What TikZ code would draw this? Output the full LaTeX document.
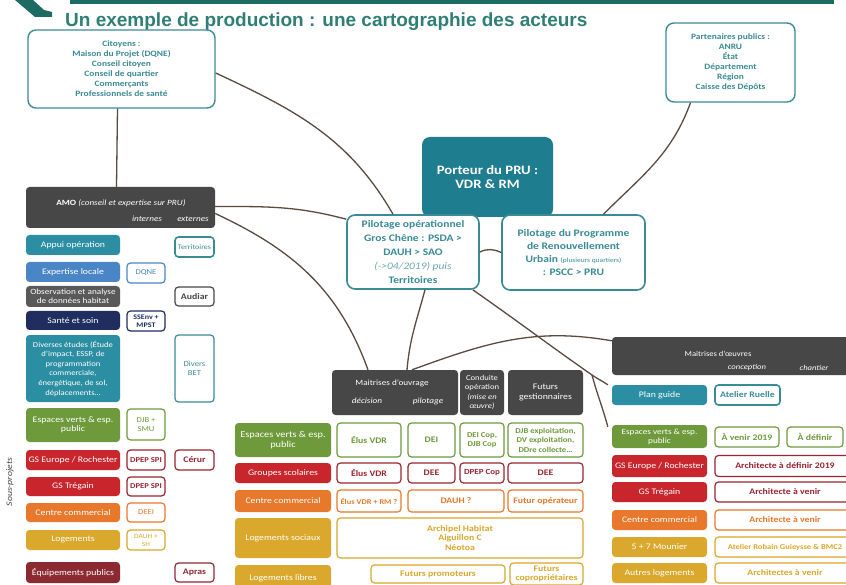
\documentclass[tikz,border=0pt]{standalone}
\usepackage{fontspec}
\setmainfont{Carlito}[FakeStretch=1.15]
\newfontfamily\titlefont{Liberation Sans}
\definecolor{tealT}{HTML}{3A8B95}
\definecolor{tealD}{HTML}{1F7D90}
\definecolor{tealF}{HTML}{2C8EA2}
\definecolor{grayD}{HTML}{474747}
\definecolor{blueF}{HTML}{4A86C5}
\definecolor{navyF}{HTML}{1F2E5E}
\definecolor{greenF}{HTML}{6E9A3B}
\definecolor{redF}{HTML}{C8252D}
\definecolor{redB}{HTML}{9B2430}
\definecolor{orangeF}{HTML}{E8782B}
\definecolor{goldF}{HTML}{D9A82C}
\definecolor{maroonF}{HTML}{8C2A32}
\definecolor{connC}{HTML}{5B4A40}
\definecolor{titleC}{HTML}{2F7F76}
\definecolor{bandC}{HTML}{1E6B64}
\tikzset{
  conn/.style={draw=connC, line width=1.3pt},
  bx/.style={rounded corners=3.5pt, align=center, inner sep=0pt, font=\fontsize{8.5}{9.5}\selectfont},
  fb/.style={bx, fill=#1, text=white},
  ob/.style={bx, draw=#1, fill=white, text=#1, line width=1.2pt, font=\fontsize{8.5}{9.5}\selectfont\bfseries},
  sz/.style 2 args={minimum width=#1pt, minimum height=#2pt},
  bigbox/.style={rounded corners=8pt, draw=tealT, fill=white, line width=1.4pt, text=tealT, align=center, inner sep=0pt, font=\fontsize{8.2}{10}\selectfont\bfseries},
  wt/.style={text=white, inner sep=0pt, font=\fontsize{8}{9.5}\selectfont},
}
\begin{document}
\begin{tikzpicture}[x=1pt,y=-1pt]
\useasboundingbox (0,0) rectangle (846,585);
\fill[white] (0,0) rectangle (846,585);
\clip (0,0) rectangle (846,585);

% header
\fill[bandC] (70,0) rectangle (834,4.5);
\fill[bandC] (15,0) -- (33,0) -- (44,10) -- (52,12) -- (52,17) -- (35,17) -- cycle;
\node[anchor=base west, inner sep=0pt, text=titleC, font=\titlefont\bfseries\fontsize{19}{21}\selectfont] (title) at (65,27) {Un exemple de production : une cartographie des acteurs};

% top boxes
\node[bigbox, sz={187}{78}] (cit) at (121.5,69) {Citoyens :\\Maison du Projet (DQNE)\\Conseil citoyen\\Conseil de quartier\\Commerçants\\Professionnels de santé};
\node[bigbox, sz={129}{79}] (part) at (730.5,62.5) {Partenaires publics :\\ANRU\\État\\Département\\Région\\Caisse des Dépôts};

% central
\node[rounded corners=8pt, fill=tealD, text=white, align=center, inner sep=0pt, sz={131}{80}, font=\fontsize{12.8}{13.5}\selectfont\bfseries] (port) at (487.5,177) {Porteur du PRU :\\VDR \& RM};
\node[bigbox, line width=1.6pt, sz={132}{74}, font=\fontsize{10}{13.8}\selectfont\bfseries] (pilop) at (413,252) {Pilotage opérationnel\\Gros Chêne : PSDA >\\DAUH > SAO\\{\mdseries\itshape\color{tealT!75}(->04/2019) puis}\\Territoires};
\node[bigbox, line width=1.6pt, sz={143}{75}, font=\fontsize{10}{12.8}\selectfont\bfseries] (pilprog) at (573.5,252.5) {Pilotage du Programme\\de Renouvellement\\Urbain {\mdseries\fontsize{6.5}{8}\selectfont(plusieurs quartiers)}\\: PSCC > PRU};

% AMO column
\node[fb=grayD, sz={189}{41}] (amo) at (120.5,207.5) {};
\node[wt] (amot) at (121,203) {\textbf{AMO} \textit{(conseil et expertise sur PRU)}};
\node[wt, font=\fontsize{8}{9.5}\selectfont\itshape] (amoi) at (147,219) {internes};
\node[wt, font=\fontsize{8}{9.5}\selectfont\itshape] (amoe) at (193,219) {externes};

\node[fb=tealF, sz={94}{20}] (appui) at (73,245) {Appui opération};
\node[ob=tealT, sz={39}{20}, line width=1.6pt, font=\fontsize{7}{8}\selectfont] (terr) at (194.5,247) {Territoires};
\node[fb=blueF, sz={94}{20}] (expl) at (73,272) {Expertise locale};
\node[ob=blueF, sz={38}{20}, font=\fontsize{7.5}{8}\selectfont] (dqne) at (146,273) {DQNE};
\node[fb=grayD!90, sz={94}{21}, font=\fontsize{8}{8.5}\selectfont] (obs) at (73,296.5) {Observation et analyse\\de données habitat};
\node[ob=grayD, sz={39}{19}] (audiar) at (194.5,296.5) {Audiar};
\node[fb=navyF, sz={94}{19}] (sante) at (73,320.5) {Santé et soin};
\node[ob=navyF, sz={38}{20}, font=\fontsize{7}{8}\selectfont\bfseries] (ssenv) at (146,321) {SSEnv +\\MPST};
\node[fb=tealF, sz={94}{67}, font=\fontsize{7.5}{9.6}\selectfont] (div) at (73,368.5) {Diverses études (Étude\\d'impact, ESSP, de\\programmation\\commerciale,\\énergétique, de sol,\\déplacements…};
\node[ob=tealT, sz={39}{67}, font=\fontsize{7.5}{9.5}\selectfont] (bet) at (194.5,368.5) {Divers\\BET};
\node[fb=greenF, sz={94}{34}] (evL) at (73,425) {Espaces verts \& esp.\\public};
\node[ob=greenF, sz={38}{31}, font=\fontsize{7.5}{9.5}\selectfont] (djb) at (146,424.5) {DJB +\\SMU};
\node[fb=redF, sz={94}{20}] (gseL) at (73,460) {GS Europe / Rochester};
\node[ob=redB, sz={38}{20}, font=\fontsize{7.5}{9}\selectfont\bfseries] (dpep1) at (146,460) {DPEP SPI};
\node[ob=redB, sz={39}{20}] (cerur) at (194.5,460) {Cérur};
\node[fb=redF, sz={94}{19}] (gstL) at (73,486.5) {GS Trégain};
\node[ob=redB, sz={38}{19}, font=\fontsize{7.5}{9}\selectfont\bfseries] (dpep2) at (146,486.5) {DPEP SPI};
\node[fb=orangeF, sz={94}{19}] (ccL) at (73,512.5) {Centre commercial};
\node[ob=orangeF, sz={38}{19}, font=\fontsize{7.5}{9}\selectfont] (deei) at (146,512.5) {DEEI};
\node[fb=goldF, sz={94}{20}] (logL) at (73,540) {Logements};
\node[ob=goldF, sz={38}{20}, font=\fontsize{6.5}{8}\selectfont] (dauhsh) at (146,540) {DAUH +\\SH};
\node[fb=maroonF, sz={94}{21}] (equip) at (73,572.5) {Équipements publics};
\node[ob=maroonF, sz={39}{19}] (apras) at (194.5,572.5) {Apras};
\node[rotate=90, inner sep=0pt, text=grayD, font=\fontsize{8.5}{9}\selectfont\itshape] (sousp) at (10,482) {Sous-projets};

% middle block
\node[fb=grayD, sz={126}{45}] (moa) at (395,392.5) {};
\node[wt] (moat) at (392,383) {Maitrises d'ouvrage};
\node[wt, font=\fontsize{8}{9.5}\selectfont\itshape] (moad) at (367,401) {décision};
\node[wt, font=\fontsize{8}{9.5}\selectfont\itshape] (moap) at (428,401) {pilotage};
\node[fb=grayD, sz={44}{45}, font=\fontsize{7.5}{9.3}\selectfont] (cond) at (482,392.5) {Conduite\\opération\\\textit{(mise en}\\\textit{œuvre)}};
\node[fb=grayD, sz={75}{45}] (futg) at (545.5,392.5) {Futurs\\gestionnaires};

\node[fb=greenF, sz={96}{34}, font=\fontsize{9}{10.5}\selectfont] (evM) at (283,440) {Espaces verts \& esp.\\public};
\node[ob=greenF, sz={64}{34}] (ev1) at (369,440) {Élus VDR};
\node[ob=greenF, sz={47}{34}] (ev2) at (431.5,440) {DEI};
\node[ob=greenF, sz={44}{34}, font=\fontsize{7.5}{9}\selectfont\bfseries] (ev3) at (482,440) {DEI Cop,\\DJB Cop};
\node[ob=greenF, sz={75}{34}, font=\fontsize{7.5}{9.5}\selectfont\bfseries] (ev4) at (545.5,440) {DJB exploitation,\\DV exploitation,\\DDre collecte…};

\node[fb=redF, sz={96}{20}] (gsM) at (283,473) {Groupes scolaires};
\node[ob=redB, sz={64}{20}] (gs1) at (369,473) {Élus VDR};
\node[ob=redB, sz={47}{20}] (gs2) at (431.5,473) {DEE};
\node[ob=redB, sz={44}{20}, font=\fontsize{7.8}{9}\selectfont\bfseries] (gs3) at (482,473) {DPEP Cop};
\node[ob=redB, sz={75}{20}] (gs4) at (545.5,473) {DEE};

\node[fb=orangeF, sz={96}{22}] (ccM) at (283,501) {Centre commercial};
\node[ob=orangeF, sz={64}{22}, font=\fontsize{7.3}{9}\selectfont\bfseries] (cc1) at (369,501) {Élus VDR + RM ?};
\node[ob=orangeF, sz={96}{22}] (cc2) at (456,501) {DAUH ?};
\node[ob=orangeF, sz={75}{22}] (cc3) at (545.5,501) {Futur opérateur};

\node[fb=goldF, sz={96}{40}] (lsM) at (283,538) {Logements sociaux};
\node[ob=goldF, sz={246}{40}] (ls1) at (460,538) {Archipel Habitat\\Aiguillon C\\Néotoa};

\node[fb=goldF, sz={96}{27}] (llM) at (283,578.5) {Logements libres};
\node[ob=goldF, sz={134}{18}] (ll1) at (438,574) {Futurs promoteurs};
\node[ob=goldF, sz={73}{22}] (ll2) at (546.5,574) {Futurs\\copropriétaires};

% right block
\node[fb=grayD, sz={248}{38}] (moe) at (736,356) {};
\node[wt, font=\fontsize{7.5}{9}\selectfont] (moet) at (718,354) {Maitrises d'œuvres};
\node[wt, font=\fontsize{7.5}{9}\selectfont\itshape] (moec) at (747,368) {conception};
\node[wt, font=\fontsize{7.5}{9}\selectfont\itshape] (moeh) at (814,368) {chantier};

\node[fb=tealF, sz={95}{20}] (pg) at (659.5,395) {Plan guide};
\node[ob=tealT, sz={65}{20}, line width=1.6pt] (ruelle) at (747.5,395) {Atelier Ruelle};
\node[fb=greenF, sz={95}{23}, font=\fontsize{8}{9}\selectfont] (evR) at (659.5,436.5) {Espaces verts \& esp.\\public};
\node[ob=greenF, sz={64}{20}] (avenir) at (747,437) {À venir 2019};
\node[ob=greenF, sz={56}{20}] (adef) at (815,437) {À définir};
\node[fb=redF, sz={95}{22}] (gseR) at (659.5,466) {GS Europe / Rochester};
\node[ob=redB, sz={140}{21}] (arch1) at (785,466) {Architecte à définir 2019};
\node[fb=redF, sz={95}{20}] (gstR) at (659.5,492) {GS Trégain};
\node[ob=redB, sz={140}{20}] (arch2) at (785,492) {Architecte à venir};
\node[fb=orangeF, sz={95}{20}] (ccR) at (659.5,520) {Centre commercial};
\node[ob=orangeF, sz={140}{20}] (arch3) at (785,520) {Architecte à venir};
\node[fb=goldF, sz={95}{20}] (mounier) at (659.5,547) {5 + 7 Mounier};
\node[ob=goldF, sz={140}{20}, font=\fontsize{7.4}{9}\selectfont\bfseries] (arch4) at (785,547) {Atelier Robain Guieysse \& BMC2};
\node[fb=goldF, sz={95}{20}] (autres) at (659.5,573) {Autres logements};
\node[ob=goldF, sz={140}{20}] (arch5) at (785,573) {Architectes à venir};

% connectors
\coordinate (br) at (592,375);
\draw[conn] ([yshift=-4pt]cit.east) to[out=-25,in=120] ([xshift=-20pt]pilop.north);
\draw[conn] ([xshift=-4pt]cit.south) -- ([xshift=-4pt]amo.north);
\draw[conn] ([yshift=1pt]amo.east) to[out=0,in=165] ([yshift=-5pt]pilop.north west);
\draw[conn] ([yshift=-6pt]amo.east) to[out=-25,in=110] ([xshift=-27pt]moa.north);
\draw[conn] ([xshift=12pt]pilop.south) to[out=-105,in=85] ([xshift=12pt]moa.north);
\draw[conn] ([xshift=17pt]moa.north) to[out=20,in=170] ([yshift=-4pt]moe.north west);
\draw[conn] ([xshift=-7pt]pilop.south east) to[out=-35,in=145] (br) to[out=-35,in=145] ([xshift=-4pt]pg.north west);
\draw[conn] (br) to[out=-75,in=105] ([xshift=-4pt,yshift=-2pt]evR.north west);
\draw[conn] ([xshift=-40pt]part.south) to[out=-110,in=45] ([xshift=30pt]pilprog.north);
\draw[conn] (pilop.east) to[out=25,in=155] (pilprog.west);
\end{tikzpicture}
\end{document}
